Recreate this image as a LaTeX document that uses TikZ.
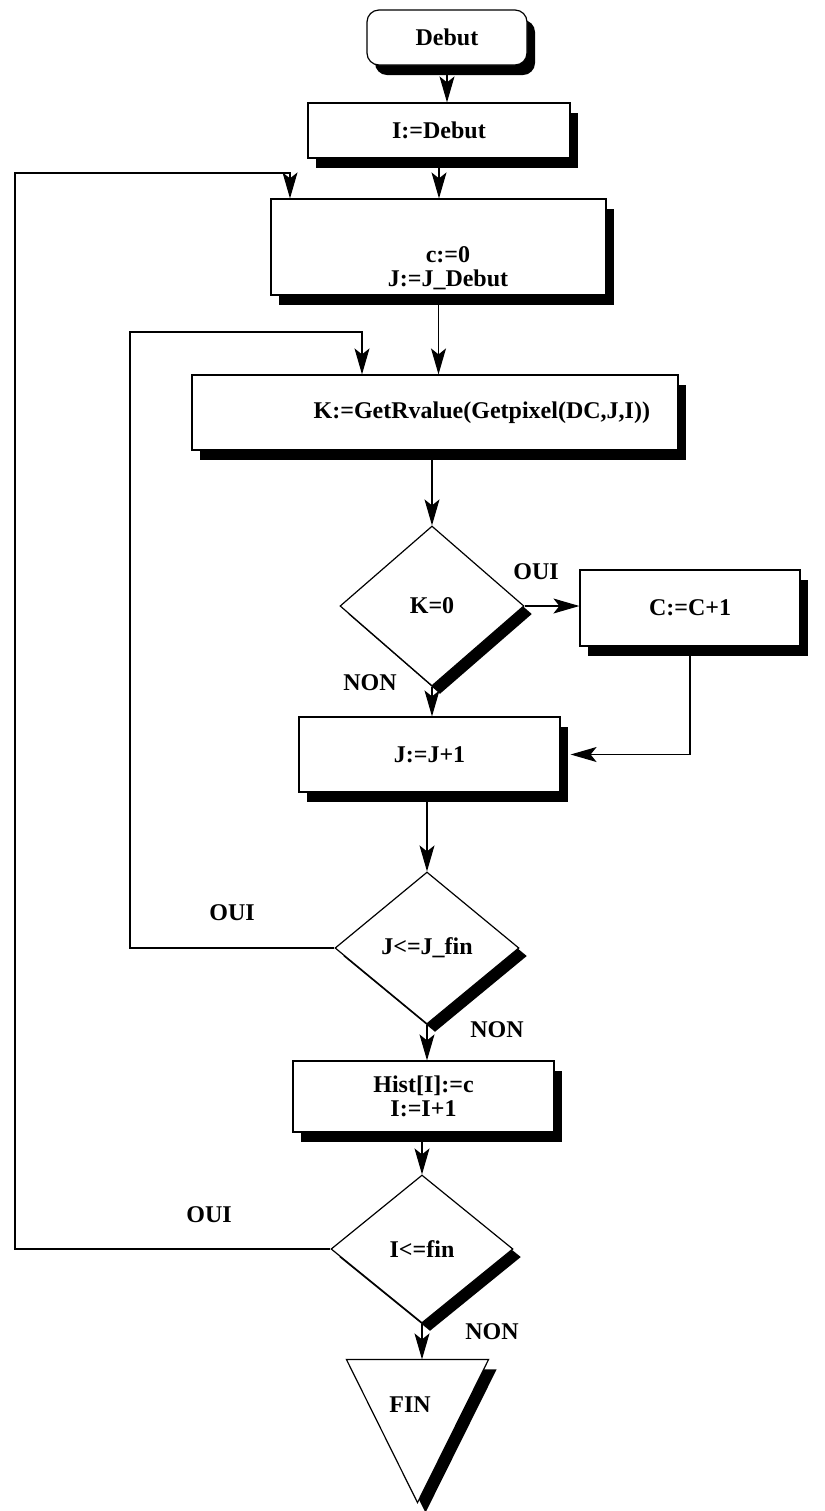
\documentclass[tikz,border=0pt]{standalone}
\usepackage{fontspec}
\setmainfont{Liberation Serif}
\usetikzlibrary{arrows.meta,calc,positioning,shapes.geometric,shadows}

\begin{document}
\begin{tikzpicture}[x=0.5pt, y=-0.5pt, line width=0.6pt,
    font=\fontsize{12}{12}\selectfont\bfseries,
    >={Stealth[length=13pt,width=7.5pt,inset=3pt]},
    blackshadow/.style={drop shadow={shadow xshift=4pt,shadow yshift=-5pt,
      fill=black,opacity=1}},
    procbox/.style={draw, fill=white, blackshadow, inner sep=0pt},
    testbox/.style={draw, diamond, fill=white, inner sep=0pt,
      drop shadow={shadow xshift=4pt,shadow yshift=-4pt,fill=black,opacity=1}},
    tag/.style={inner sep=0pt}]
  \useasboundingbox (0,0) rectangle (825,1511);

  % Start and initialisation of the row.
  \node[procbox, rounded corners=6pt, minimum width=80pt, minimum height=27.5pt]
    (debut) at (447,37.5) {Debut};
  \node[procbox, minimum width=131pt, minimum height=27.5pt]
    (idebut) at (439,130.5) {I:=Debut};
  \node[procbox, minimum width=167.5pt, minimum height=48pt] (init) at (438.5,247) {};
  \node[tag, align=center] (initlabel) at (448,268) {c:=0\\J:=J\_Debut};

  % Pixel loop.
  \node[procbox, minimum width=243pt, minimum height=37.5pt,
    text width=215pt, inner xsep=14pt, align=right]
    (kbox) at (435,412.5) {K:=GetRvalue(Getpixel(DC,J,I))};
  \node[testbox, minimum width=92pt, minimum height=80pt] (kzero) at (432,606) {K=0};
  \node[procbox, minimum width=110pt, minimum height=38pt] (cplus) at (690,608) {C:=C+1};
  \node[procbox, minimum width=130.5pt, minimum height=37.5pt]
    (jplus) at (429.5,754.5) {J:=J+1};
  \node[testbox, minimum width=92pt, minimum height=76pt] (jtest) at (427,948) {J<=J\_fin};

  % End of the row and end of the image.
  \node[procbox, minimum width=130.5pt, minimum height=35.5pt, align=center]
    (hist) at (423.5,1096.5) {Hist[I]:=c\\I:=I+1};
  \node[testbox, minimum width=91pt, minimum height=74pt] (itest) at (422,1249) {I<=fin};
  \node[minimum width=70.5pt, minimum height=71pt, inner sep=0pt] (fin) at (417.5,1431) {};
  \draw[fill=white, blackshadow] (fin.north west) -- (fin.north east) -- (fin.south) -- cycle;
  \node[tag] (finlabel) at (410,1405) {FIN};

  % Branch labels.
  \node[tag] (oui1) at (536,572) {OUI};
  \node[tag] (non1) at (370,683) {NON};
  \node[tag] (oui2) at (232,913) {OUI};
  \node[tag] (non2) at (497,1030) {NON};
  \node[tag] (oui3) at (209,1215) {OUI};
  \node[tag] (non3) at (492,1332) {NON};

  % Loop corners.
  \coordinate (innerloop) at (130,332);
  \coordinate (outerloop) at (15,173);
  \coordinate (kin) at ($(kbox.north)+(-73,0)$);
  \coordinate (initin) at ($(init.north)+(-148.5,0)$);

  \draw[->] (debut.south) -- (debut.south |- idebut.north);
  \draw[->] (idebut.south) -- (idebut.south |- init.north);
  \draw[->] (init.south) -- (init.south |- kbox.north);
  \draw[->] (kzero.north |- kbox.south) -- (kzero.north);
  \draw[->] (kzero.east) -- (kzero.east -| cplus.west);
  \draw[->] (kzero.south) -- (kzero.south |- jplus.north);
  \draw[->, shorten >=5pt] (cplus.south) |- (jplus.east);
  \draw[->] (jplus.south -| jtest.north) -- (jtest.north);
  \draw[->] (jtest.west) -| (innerloop) -| (kin);
  \draw[->] (jtest.south) -- (jtest.south |- hist.north);
  \draw[->] (hist.south -| itest.north) -- (itest.north);
  \draw[->] (itest.west) -| (outerloop) -| (initin);
  \draw[->] (itest.south) -- (itest.south |- fin.north);
\end{tikzpicture}
\end{document}
